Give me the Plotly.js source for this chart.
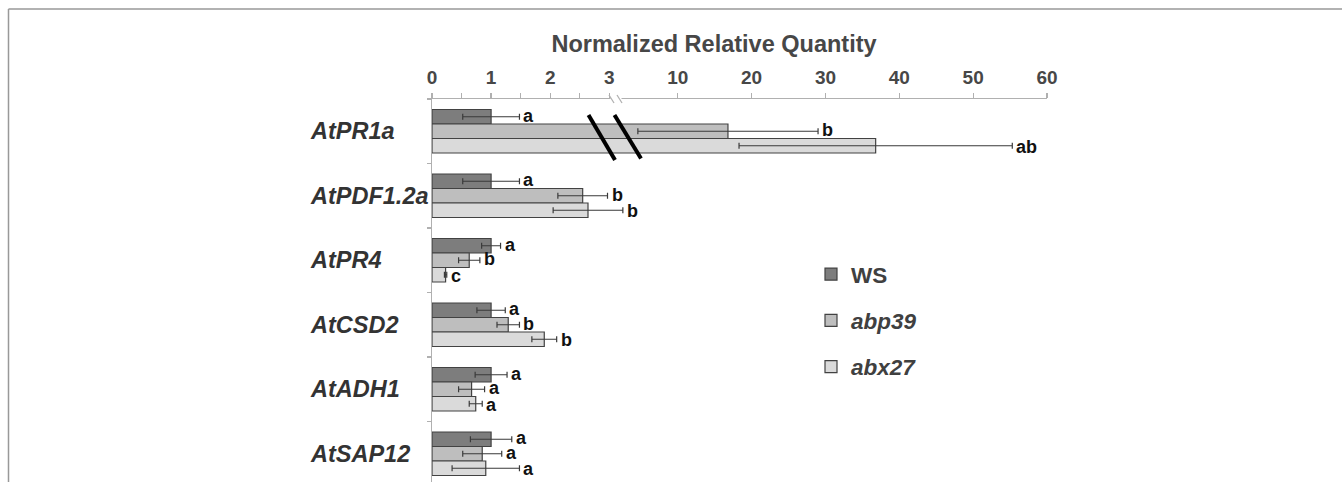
<!DOCTYPE html>
<html>
<head>
<meta charset="utf-8">
<script src="https://cdn.plot.ly/plotly-3.0.1.min.js"></script>
<style>html,body{margin:0;padding:0;background:#fff;}#chart{width:1342px;height:482px;}</style>
</head>
<body>
<div id="chart"></div>
<script>
// ---- data ----
const genes = ['AtPR1a', 'AtPDF1.2a', 'AtPR4', 'AtCSD2', 'AtADH1', 'AtSAP12'];
const seriesNames = ['WS', 'abp39', 'abx27'];
const wsVals = [1.0, 1.0, 1.0, 1.0, 1.0, 1.0];
const wsErr = [0.48, 0.48, 0.16, 0.24, 0.27, 0.35];
const abp39Vals = [16.8, 2.55, 0.63, 1.29, 0.67, 0.85];
const abp39Err = [12.2, 0.42, 0.18, 0.19, 0.22, 0.33];
const abx27Vals = [36.8, 2.64, 0.23, 1.90, 0.74, 0.91];
const abx27Err = [18.5, 0.59, 0.02, 0.21, 0.11, 0.57];
const wsLetters = ['a', 'a', 'a', 'a', 'a', 'a'];
const abp39Letters = ['b', 'b', 'b', 'b', 'a', 'a'];
const abx27Letters = ['ab', 'b', 'c', 'b', 'a', 'a'];
const axisTitle = 'Normalized Relative Quantity';

// ---- layout geometry ----
const W = 1342, H = 482;
const M = {l: 432, r: 295, t: 99, b: 0};
const PW = W - M.l - M.r, PH = H - M.t - M.b;
const px = x => (x - M.l) / PW;
const py = y => (H - M.b - y) / PH;
const brk = 3.3;              // end of first (linear 0-3) segment
const seg1End = px(627);
const FONT = 'Liberation Sans, Arial, sans-serif';
const colors = ['#7d7d7d', '#bebebe', '#dadada'];
const barW = 0.225;
const offsets = [-0.3375, -0.1125, 0.1125];

const vals = [wsVals, abp39Vals, abx27Vals];
const errs = [wsErr, abp39Err, abx27Err];
const letters = [wsLetters, abp39Letters, abx27Letters];
const italic = [false, true, true];

const traces = [];
seriesNames.forEach((name, s) => {
  const label = italic[s] ? '<b><i>' + name + '</i></b>' : '<b>' + name + '</b>';
  // first segment (0 - 3)
  traces.push({
    type: 'bar', orientation: 'h', name: label, legendgroup: name,
    y: genes, x: vals[s], xaxis: 'x', yaxis: 'y',
    offset: offsets[s], width: barW,
    marker: {color: colors[s], line: {color: '#424242', width: 1.2}},
    error_x: {type: 'data', array: errs[s].map((e, i) => vals[s][i] > brk ? null : e),
              visible: true, color: '#3a3a3a', thickness: 1.2, width: 3},
    hoverinfo: 'x+y'
  });
  // second segment (after break)
  const idx = genes.map((g, i) => i).filter(i => vals[s][i] > brk);
  if (idx.length) {
    traces.push({
      type: 'bar', orientation: 'h', name: label, legendgroup: name, showlegend: false,
      y: idx.map(i => genes[i]), x: idx.map(i => vals[s][i]), xaxis: 'x2', yaxis: 'y',
      offset: offsets[s], width: barW,
      marker: {color: colors[s], line: {color: '#424242', width: 1.2}},
      error_x: {type: 'data', array: idx.map(i => errs[s][i]), visible: true,
                color: '#3a3a3a', thickness: 1.2, width: 3},
      hoverinfo: 'x+y'
    });
  }
});

const annotations = [];
// gene labels (left aligned)
genes.forEach((g, i) => {
  annotations.push({
    xref: 'paper', yref: 'y', x: px(308), y: i, xanchor: 'left', yanchor: 'middle',
    text: '<b><i>' + g + '</i></b>', showarrow: false,
    font: {family: FONT, size: 23.5, color: '#333333'}
  });
});
// significance letters
seriesNames.forEach((name, s) => {
  genes.forEach((g, i) => {
    const end = vals[s][i] + errs[s][i];
    annotations.push({
      xref: vals[s][i] > brk ? 'x2' : 'x', yref: 'y',
      x: end, y: i + offsets[s] + barW / 2,
      xanchor: 'left', yanchor: 'middle', xshift: 3, yshift: s === 2 ? -1 : 1,
      text: '<b>' + letters[s][i] + '</b>', showarrow: false, borderpad: 0,
      font: {family: FONT, size: 18, color: '#111111'}
    });
  });
});

const axisCol = '#b0b0b0';
const shapes = [
  // figure frame (top and left)
  {type: 'line', xref: 'paper', yref: 'paper', x0: px(8.5), x1: px(1342), y0: py(9), y1: py(9),
   line: {color: '#999999', width: 1.5}},
  {type: 'line', xref: 'paper', yref: 'paper', x0: px(8.5), x1: px(8.5), y0: py(9), y1: py(482),
   line: {color: '#999999', width: 1.5}},
  // gap in the top axis line
  {type: 'rect', xref: 'paper', yref: 'paper', x0: px(610.5), x1: px(621.5), y0: py(102), y1: py(96),
   fillcolor: '#ffffff', line: {width: 0}, layer: 'above'},
  {type: 'line', xref: 'paper', yref: 'paper', x0: px(609), x1: px(614), y0: py(95), y1: py(103),
   line: {color: axisCol, width: 1.3}},
  {type: 'line', xref: 'paper', yref: 'paper', x0: px(617), x1: px(622), y0: py(95), y1: py(103),
   line: {color: axisCol, width: 1.3}},
  // break marks across the bars
  {type: 'line', xref: 'paper', yref: 'paper', x0: px(588.5), x1: px(615), y0: py(115), y1: py(160),
   line: {color: '#000000', width: 4}},
  {type: 'line', xref: 'paper', yref: 'paper', x0: px(614.5), x1: px(641), y0: py(115), y1: py(158.5),
   line: {color: '#000000', width: 4}}
];

const tickFont = {family: FONT, size: 19, color: '#474747', weight: 'bold'};

const layout = {
  width: W, height: H, margin: M,
  paper_bgcolor: '#ffffff', plot_bgcolor: '#ffffff',
  barmode: 'overlay', showlegend: true,
  font: {family: FONT},
  title: {text: '<b>' + axisTitle + '</b>', xref: 'container', yref: 'container',
          x: 714 / W, y: 1 - 44 / H, xanchor: 'center', yanchor: 'middle',
          font: {family: FONT, size: 23.5, color: '#474747'}},
  xaxis: {domain: [0, seg1End], range: [0, brk], side: 'top', anchor: 'y',
          showgrid: false, zeroline: false, showline: true, linecolor: axisCol, linewidth: 1.5,
          ticks: 'outside', ticklen: 5, tickcolor: axisCol, tickwidth: 1.3,
          tick0: 0, dtick: 1, tickfont: tickFont, ticklabelstandoff: 1,
          minor: {dtick: 0.5, ticks: 'outside', ticklen: 5, tickcolor: axisCol, tickwidth: 1.3, showgrid: false},
          fixedrange: true},
  xaxis2: {domain: [seg1End, 1], range: [3.13, 60], side: 'top', anchor: 'y',
           showgrid: false, zeroline: false, showline: true, linecolor: axisCol, linewidth: 1.5,
           ticks: 'outside', ticklen: 5, tickcolor: axisCol, tickwidth: 1.3,
           tick0: 0, dtick: 10, tickfont: tickFont, ticklabelstandoff: 1, fixedrange: true},
  yaxis: {type: 'category', categoryorder: 'array', categoryarray: genes,
          range: [5.438, -0.5], domain: [0, 1], anchor: 'x',
          showgrid: false, zeroline: false, showline: true, linecolor: axisCol, linewidth: 1.5,
          ticks: 'outside', tickson: 'boundaries', ticklen: 4, tickcolor: axisCol, tickwidth: 1.3,
          showticklabels: false, fixedrange: true},
  legend: {x: px(811), y: py(253), xanchor: 'left', yanchor: 'top', xref: 'paper', yref: 'paper',
           bgcolor: 'rgba(0,0,0,0)', traceorder: 'grouped', tracegroupgap: 14,
           font: {family: FONT, size: 22.5, color: '#404040'}},
  annotations: annotations,
  shapes: shapes
};

Plotly.newPlot('chart', traces, layout, {displayModeBar: false, staticPlot: true});
</script>
</body>
</html>
